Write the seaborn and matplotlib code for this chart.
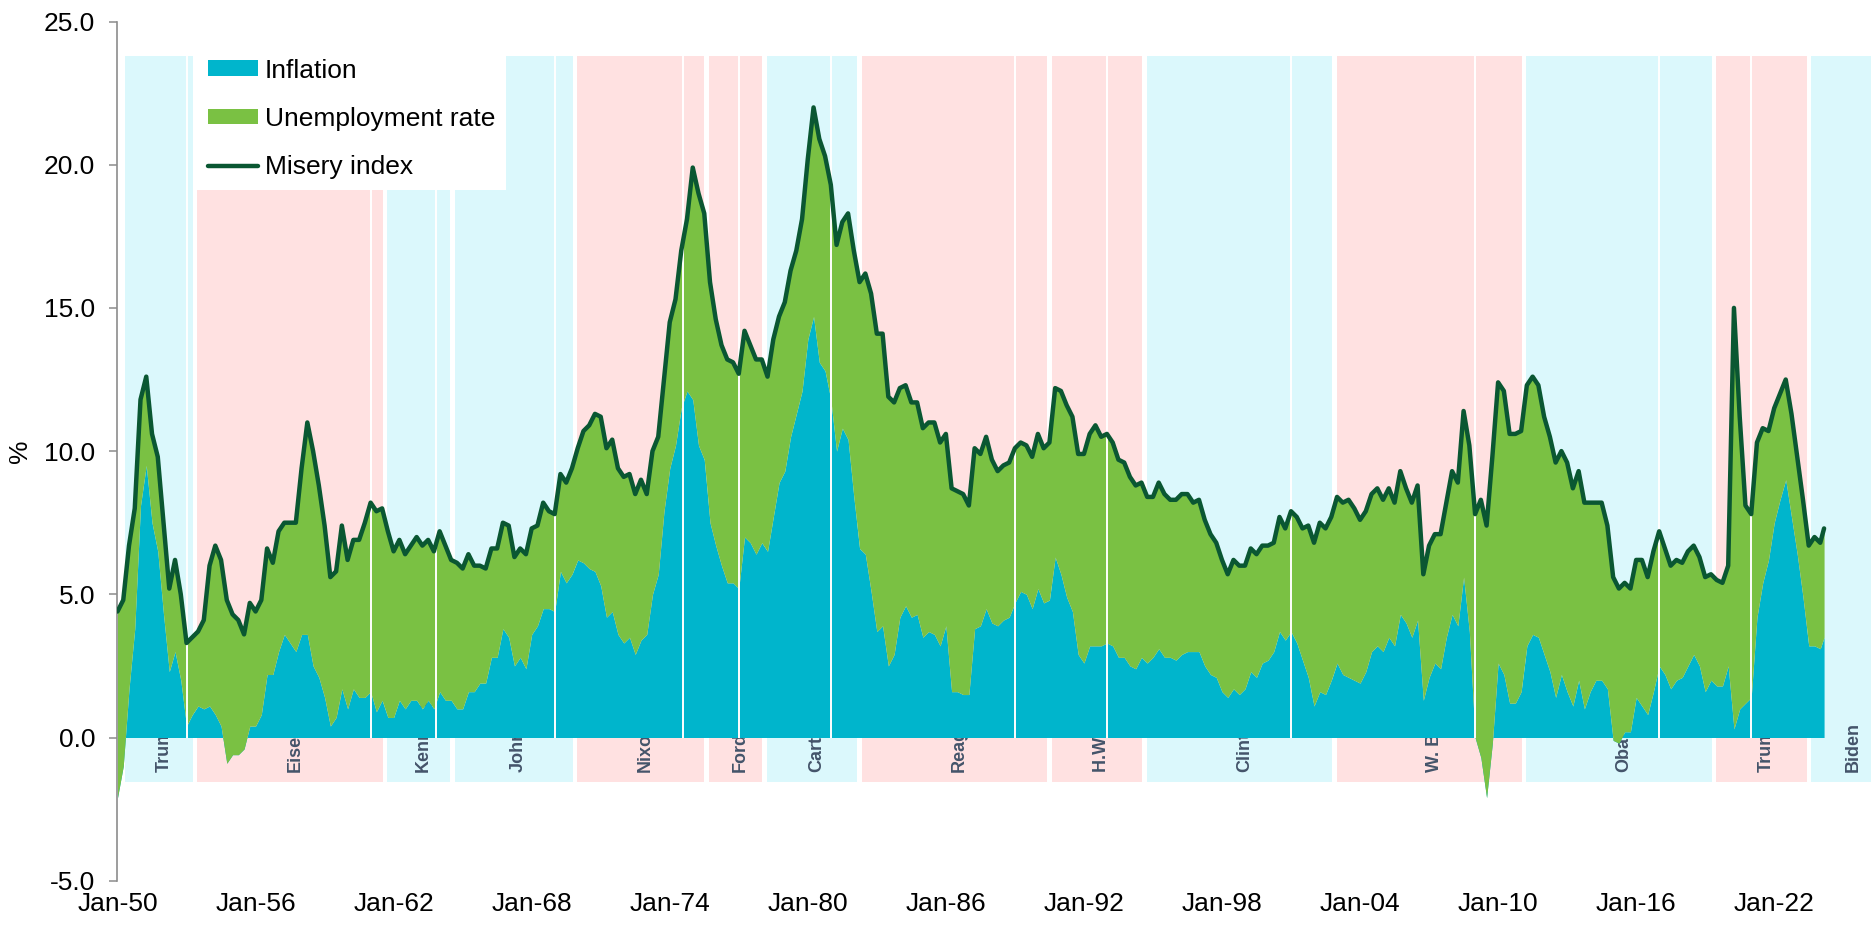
import numpy as np
import pandas as pd
import matplotlib
matplotlib.use("Agg")
import matplotlib.pyplot as plt
import matplotlib.transforms as mtransforms
import seaborn as sns


# CPI inflation, % y/y (samples Jan, Apr, Jul, Oct; 2024: Jan, Mar)
inflation_rows = [
    [-2.1, -1.0, 1.7, 3.8],    # 1950
    [8.1, 9.5, 7.5, 6.5],
    [4.3, 2.3, 3.0, 2.0],
    [0.4, 0.8, 1.1, 1.0],
    [1.1, 0.8, 0.4, -0.9],
    [-0.6, -0.6, -0.4, 0.4],   # 1955
    [0.4, 0.8, 2.2, 2.2],
    [3.0, 3.6, 3.3, 3.0],
    [3.6, 3.6, 2.5, 2.1],
    [1.4, 0.4, 0.7, 1.7],
    [1.0, 1.7, 1.4, 1.4],      # 1960
    [1.6, 0.9, 1.3, 0.7],
    [0.7, 1.3, 1.0, 1.3],
    [1.3, 1.0, 1.3, 1.0],
    [1.6, 1.3, 1.3, 1.0],
    [1.0, 1.6, 1.6, 1.9],      # 1965
    [1.9, 2.8, 2.8, 3.8],
    [3.5, 2.5, 2.8, 2.4],
    [3.6, 3.9, 4.5, 4.5],
    [4.4, 5.8, 5.4, 5.7],
    [6.2, 6.1, 5.9, 5.8],      # 1970
    [5.3, 4.2, 4.4, 3.6],
    [3.3, 3.5, 2.9, 3.4],
    [3.6, 5.0, 5.7, 7.9],
    [9.4, 10.2, 11.5, 12.1],
    [11.8, 10.2, 9.7, 7.5],    # 1975
    [6.7, 6.0, 5.4, 5.4],
    [5.2, 7.0, 6.8, 6.4],
    [6.8, 6.5, 7.7, 8.9],
    [9.3, 10.5, 11.3, 12.1],
    [13.9, 14.7, 13.1, 12.8],  # 1980
    [11.8, 10.0, 10.8, 10.4],
    [8.4, 6.6, 6.4, 5.1],
    [3.7, 3.9, 2.5, 2.9],
    [4.2, 4.6, 4.2, 4.3],
    [3.5, 3.7, 3.6, 3.2],      # 1985
    [3.9, 1.6, 1.6, 1.5],
    [1.5, 3.8, 3.9, 4.5],
    [4.0, 3.9, 4.1, 4.2],
    [4.7, 5.1, 5.0, 4.5],
    [5.2, 4.7, 4.8, 6.3],      # 1990
    [5.7, 4.9, 4.4, 2.9],
    [2.6, 3.2, 3.2, 3.2],
    [3.3, 3.2, 2.8, 2.8],
    [2.5, 2.4, 2.8, 2.6],
    [2.8, 3.1, 2.8, 2.8],      # 1995
    [2.7, 2.9, 3.0, 3.0],
    [3.0, 2.5, 2.2, 2.1],
    [1.6, 1.4, 1.7, 1.5],
    [1.7, 2.3, 2.1, 2.6],
    [2.7, 3.0, 3.7, 3.4],      # 2000
    [3.7, 3.3, 2.7, 2.1],
    [1.1, 1.6, 1.5, 2.0],
    [2.6, 2.2, 2.1, 2.0],
    [1.9, 2.3, 3.0, 3.2],
    [3.0, 3.5, 3.2, 4.3],      # 2005
    [4.0, 3.5, 4.1, 1.3],
    [2.1, 2.6, 2.4, 3.5],
    [4.3, 3.9, 5.6, 3.7],
    [0.0, -0.7, -2.1, -0.2],
    [2.6, 2.2, 1.2, 1.2],      # 2010
    [1.6, 3.2, 3.6, 3.5],
    [2.9, 2.3, 1.4, 2.2],
    [1.6, 1.1, 2.0, 1.0],
    [1.6, 2.0, 2.0, 1.7],
    [-0.1, -0.2, 0.2, 0.2],    # 2015
    [1.4, 1.1, 0.8, 1.6],
    [2.5, 2.2, 1.7, 2.0],
    [2.1, 2.5, 2.9, 2.5],
    [1.6, 2.0, 1.8, 1.8],
    [2.5, 0.3, 1.0, 1.2],      # 2020
    [1.4, 4.2, 5.4, 6.2],
    [7.5, 8.3, 9.0, 7.7],
    [6.4, 4.9, 3.2, 3.2],
    [3.1, 3.5],                # 2024
]

# unemployment rate, %
unemployment_rows = [
    [6.5, 5.8, 5.0, 4.2],      # 1950
    [3.7, 3.1, 3.1, 3.3],
    [3.2, 2.9, 3.2, 3.0],
    [2.9, 2.7, 2.6, 3.1],
    [4.9, 5.9, 5.8, 5.7],
    [4.9, 4.7, 4.0, 4.3],      # 1955
    [4.0, 4.0, 4.4, 3.9],
    [4.2, 3.9, 4.2, 4.5],
    [5.8, 7.4, 7.5, 6.7],
    [6.0, 5.2, 5.1, 5.7],
    [5.2, 5.2, 5.5, 6.1],      # 1960
    [6.6, 7.0, 6.7, 6.5],
    [5.8, 5.6, 5.4, 5.4],
    [5.7, 5.7, 5.6, 5.5],
    [5.6, 5.4, 4.9, 5.1],
    [4.9, 4.8, 4.4, 4.1],      # 1965
    [4.0, 3.8, 3.8, 3.7],
    [3.9, 3.8, 3.8, 4.0],
    [3.7, 3.5, 3.7, 3.4],
    [3.4, 3.4, 3.5, 3.7],
    [3.9, 4.6, 5.0, 5.5],      # 1970
    [5.9, 5.9, 6.0, 5.8],
    [5.8, 5.7, 5.6, 5.6],
    [4.9, 5.0, 4.8, 4.6],
    [5.1, 5.1, 5.5, 6.0],
    [8.1, 8.8, 8.6, 8.4],      # 1975
    [7.9, 7.7, 7.8, 7.7],
    [7.5, 7.2, 6.9, 6.8],
    [6.4, 6.1, 6.2, 5.8],
    [5.9, 5.8, 5.7, 6.0],
    [6.3, 7.3, 7.8, 7.5],      # 1980
    [7.5, 7.2, 7.2, 7.9],
    [8.6, 9.3, 9.8, 10.4],
    [10.4, 10.2, 9.4, 8.8],
    [8.0, 7.7, 7.5, 7.4],
    [7.3, 7.3, 7.4, 7.1],      # 1985
    [6.7, 7.1, 7.0, 7.0],
    [6.6, 6.3, 6.0, 6.0],
    [5.7, 5.4, 5.4, 5.4],
    [5.4, 5.2, 5.2, 5.3],
    [5.4, 5.4, 5.5, 5.9],      # 1990
    [6.4, 6.7, 6.8, 7.0],
    [7.3, 7.4, 7.7, 7.3],
    [7.3, 7.1, 6.9, 6.8],
    [6.6, 6.4, 6.1, 5.8],
    [5.6, 5.8, 5.7, 5.5],      # 1995
    [5.6, 5.6, 5.5, 5.2],
    [5.3, 5.1, 4.9, 4.7],
    [4.6, 4.3, 4.5, 4.5],
    [4.3, 4.3, 4.3, 4.1],
    [4.0, 3.8, 4.0, 3.9],      # 2000
    [4.2, 4.4, 4.6, 5.3],
    [5.7, 5.9, 5.8, 5.7],
    [5.8, 6.0, 6.2, 6.0],
    [5.7, 5.6, 5.5, 5.5],
    [5.3, 5.2, 5.0, 5.0],      # 2005
    [4.7, 4.7, 4.7, 4.4],
    [4.6, 4.5, 4.7, 4.7],
    [5.0, 5.0, 5.8, 6.5],
    [7.8, 9.0, 9.5, 10.0],
    [9.8, 9.9, 9.4, 9.4],      # 2010
    [9.1, 9.1, 9.0, 8.8],
    [8.3, 8.2, 8.2, 7.8],
    [8.0, 7.6, 7.3, 7.2],
    [6.6, 6.2, 6.2, 5.7],
    [5.7, 5.4, 5.2, 5.0],      # 2015
    [4.8, 5.1, 4.8, 4.9],
    [4.7, 4.4, 4.3, 4.2],
    [4.0, 4.0, 3.8, 3.8],
    [4.0, 3.7, 3.7, 3.6],
    [3.5, 14.7, 10.2, 6.9],    # 2020
    [6.4, 6.1, 5.4, 4.5],
    [4.0, 3.7, 3.5, 3.6],
    [3.4, 3.4, 3.5, 3.8],
    [3.7, 3.8],                # 2024
]

# presidencies: name, start (fractional year), party
presidents = ["Truman", "Eisenhower", "Kennedy", "Johnson", "Nixon", "Ford", "Carter",
              "Reagan", "H.W. Bush", "Clinton", "W. Bush", "Obama", "Trump", "Biden"]
term_starts = [1950.0, 1953.05, 1961.05, 1963.89, 1969.05, 1974.61, 1977.05,
               1981.05, 1989.05, 1993.05, 2001.05, 2009.05, 2017.05, 2021.05]
term_last_end = 2024.4
parties = ["D", "R", "D", "D", "R", "R", "D", "R", "R", "D", "R", "D", "R", "D"]

# transitions marked on the data time line
transitions = ["1953-01", "1961-01", "1963-11", "1969-01", "1974-08", "1977-01", "1981-01",
               "1989-01", "1993-01", "2001-01", "2009-01", "2017-01", "2021-01"]

tick_years = list(range(1950, 2023, 6))
tick_labels = ["Jan-%02d" % (y % 100) for y in tick_years]
y_ticks = [-5, 0, 5, 10, 15, 20, 25]

C_INF = "#00B5CC"
C_UNE = "#7AC143"
C_LINE = "#0A5732"
C_DEM = "#DBF8FC"
C_REP = "#FFE1E1"
C_LBL = "#44546A"
C_AXIS = "#8C8C8C"


def to_year(ts):
    return ts.year + (ts.month - 1) / 12.0


def main():
    sns.set_style("white")
    plt.rcParams["font.family"] = ["Liberation Sans", "DejaVu Sans"]

    dates = list(pd.date_range("1950-01-01", "2024-01-01", freq="QS")) + [pd.Timestamp("2024-03-01")]
    x = np.array([to_year(d) for d in dates])
    infl = np.concatenate([np.array(r) for r in inflation_rows])
    unemp = np.concatenate([np.array(r) for r in unemployment_rows])
    misery = infl + unemp
    df = pd.DataFrame({"x": x, "Inflation": infl, "Unemployment rate": unemp, "Misery index": misery})

    W, H = 1871, 925
    fig = plt.figure(figsize=(W / 100, H / 100), dpi=100)
    left, right, top, bottom = 117.5, 1871, 21.5, 880.7
    ax = fig.add_axes([left / W, 1 - bottom / H, (right - left) / W, (bottom - top) / H])

    # background presidencies on their own (slightly different) time scale
    ax2 = ax.twiny()
    band_px0, band_yr0, band_scale = 195.0, 1953.05, 23.735
    ax2.set_xlim(band_yr0 + (left - band_px0) / band_scale, band_yr0 + (right - band_px0) / band_scale)
    ends = term_starts[1:] + [term_last_end]
    gap = 0.095
    band_bottom, band_top = -1.55, 23.8
    for name, s, e, p in zip(presidents, term_starts, ends, parties):
        ax2.bar((s + e) / 2, band_top - band_bottom, width=(e - s) - 2 * gap, bottom=band_bottom,
                color=C_DEM if p == "D" else C_REP, linewidth=0, zorder=1)
    shift = mtransforms.offset_copy(ax2.transData, fig=fig, x=3.6, y=0, units="points")
    for name, s, e in zip(presidents, term_starts, ends):
        ax2.text((s + e) / 2, -1.2, name, rotation=90, ha="center", va="bottom",
                 fontsize=13, fontweight="bold", color=C_LBL, transform=shift, zorder=2)
    ax2.set_xticks([])
    ax2.tick_params(top=False, labeltop=False)
    for sp in ax2.spines.values():
        sp.set_visible(False)

    ax.set_zorder(ax2.get_zorder() + 1)
    ax.patch.set_visible(False)

    polys = ax.stackplot(df["x"], df["Inflation"], df["Unemployment rate"],
                         colors=[C_INF, C_UNE], linewidth=0, zorder=2)
    trans_x = [to_year(pd.Timestamp(t + "-01")) for t in transitions]
    ax.vlines(trans_x, 0, band_top, colors="white", linewidth=1.4, zorder=3)
    sns.lineplot(data=df, x="x", y="Misery index", ax=ax, color=C_LINE, linewidth=3.2,
                 zorder=4, legend=False)
    line = ax.get_lines()[-1]

    ax.set_xlim(1950, 1950 + (right - left) / 23.01)
    ax.set_ylim(-5, 25)
    ax.set_xticks(tick_years)
    ax.set_xticklabels(tick_labels)
    ax.set_yticks(y_ticks)
    ax.set_yticklabels(["%.1f" % v for v in y_ticks])
    ax.set_xlabel("")
    ax.set_ylabel("%", fontsize=19, color="black")
    ax.yaxis.set_label_coords(-0.049, 0.5)

    for sp in ["top", "right", "bottom"]:
        ax.spines[sp].set_visible(False)
    ax.spines["left"].set_color(C_AXIS)
    ax.spines["left"].set_linewidth(1.2)
    ax.tick_params(axis="y", length=6, width=1.1, color=C_AXIS, pad=10, labelsize=19,
                   labelcolor="black", direction="out", left=True)
    ax.tick_params(axis="x", length=0, pad=8, labelsize=19, labelcolor="black", bottom=True)

    leg = ax.legend([polys[0], polys[1], line], ["Inflation", "Unemployment rate", "Misery index"],
                    loc="upper left", bbox_to_anchor=(197 / W, 1 - 48 / H), bbox_transform=fig.transFigure,
                    frameon=True, facecolor="white", edgecolor="none", framealpha=1, fancybox=False,
                    borderpad=0.4, borderaxespad=0, handlelength=1.93, handleheight=0.53,
                    handletextpad=0.25, labelspacing=0.92, fontsize=19)
    for t in leg.get_texts():
        t.set_color("black")
    leg.set_zorder(10)

    fig.savefig("out.png", dpi=100, facecolor="white")
    plt.close(fig)


if __name__ == "__main__":
    main()
